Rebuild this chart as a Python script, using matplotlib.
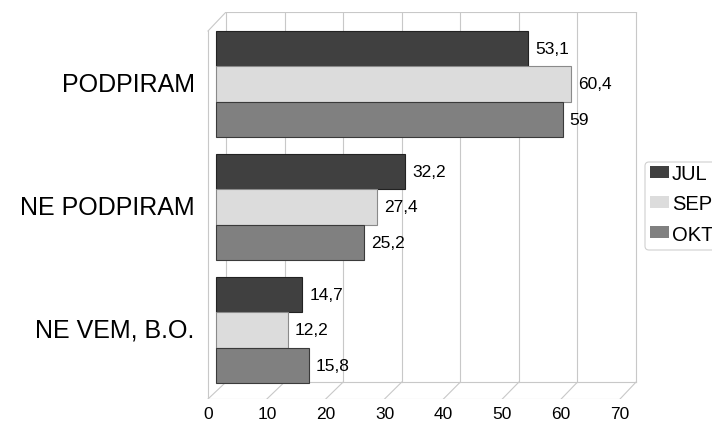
import numpy as np
import matplotlib
matplotlib.use("Agg")
import matplotlib.pyplot as plt
from matplotlib.patches import Patch, FancyBboxPatch

plt.rcParams['font.family'] = ['Liberation Sans', 'DejaVu Sans']

categories = ['PODPIRAM', 'NE PODPIRAM', 'NE VEM, B.O.']
series = ['JUL', 'SEP', 'OKT']
jul = [53.1, 32.2, 14.7]
sep = [60.4, 27.4, 12.2]
okt = [59.0, 25.2, 15.8]
ticks = [0, 10, 20, 30, 40, 50, 60, 70]

colors = ['#404040', '#dcdcdc', '#808080']
edges = ['#222222', '#8a8a8a', '#3a3a3a']
grid_c = '#c8c8c8'

W, H = 712, 427
fig = plt.figure(figsize=(W / 100, H / 100), dpi=100)

# pixel mapping: x px = 216 + 5.876*v ; y px = 331 - 123*v
sx, x0 = 5.876, 216
sy, y0 = 123, 331
xlim = (-2.0, 72.0)
ylim = (-0.561, 2.585)
left = x0 + xlim[0] * sx
right = x0 + xlim[1] * sx
top = y0 - ylim[1] * sy
bottom = y0 - ylim[0] * sy
ax = fig.add_axes([left / W, 1 - bottom / H, (right - left) / W, (bottom - top) / H])
ax.set_xlim(*xlim)
ax.set_ylim(*ylim)
ax.axis('off')


def back(v):
    return 1.70 + v * 0.997


def front(v):
    return -1.36 + v * 1.0017


y_top, y_back, y_front, y_corner = 2.585, -0.423, -0.561, 2.431

# 3d frame: back wall, floor, left wall
for t in ticks:
    ax.plot([back(t), back(t)], [y_back, y_top], color=grid_c, lw=0.8, zorder=1)
    ax.plot([back(t), front(t)], [y_back, y_front], color=grid_c, lw=0.8, zorder=1)
ax.plot([back(0), back(70)], [y_top, y_top], color=grid_c, lw=0.8, zorder=1)
ax.plot([back(0), back(70)], [y_back, y_back], color=grid_c, lw=0.8, zorder=1)
ax.plot([front(0), front(70)], [y_front, y_front], color=grid_c, lw=0.8, zorder=1)
ax.plot([front(0), front(0)], [y_front, y_corner], color=grid_c, lw=0.8, zorder=1)
ax.plot([front(0), back(0)], [y_corner, y_top], color=grid_c, lw=0.8, zorder=1)

ypos = np.array([2, 1, 0])
h = 0.285
data = [jul, sep, okt]
offsets = [h, 0, -h]
for vals, off, c, ec, name in zip(data, offsets, colors, edges, series):
    ax.barh(ypos + off, vals, height=h, color=c, edgecolor=ec,
            linewidth=0.8, zorder=3, label=name)
    for y, v in zip(ypos + off, vals):
        ax.annotate(f"{v:g}".replace('.', ','), (v, y), xytext=(5, 0),
                    textcoords='offset points', va='center', ha='left',
                    fontsize=12.5, zorder=4)

for y, cat in zip(ypos, categories):
    ax.text(-3.6, y, cat, ha='right', va='center', fontsize=18, clip_on=False)

for t in ticks:
    ax.text(front(t), -0.68, str(t), ha='center', va='center',
            fontsize=12.5, clip_on=False)

# legend frame (runs past the right edge like the original)
frame = FancyBboxPatch((645, H - 251), 90, 88, boxstyle='round,pad=0,rounding_size=4',
                       transform=None, facecolor='white', edgecolor='#d0d0d0',
                       linewidth=0.8, zorder=5)
fig.patches.append(frame)

handles = [Patch(facecolor=c, edgecolor='none') for c in colors]
fig.legend(handles=handles, labels=series, loc='upper left',
           bbox_to_anchor=(650 / W, 1 - 165 / H), fontsize=14.5,
           handlelength=0.95, handleheight=0.55, handletextpad=0.15,
           labelspacing=0.56, borderpad=0, borderaxespad=0,
           frameon=False)

fig.savefig('out.png', dpi=100)
